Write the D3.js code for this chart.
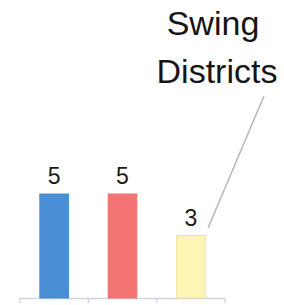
<!DOCTYPE html>
<html>
<head>
<meta charset="utf-8">
<script src="https://d3js.org/d3.v7.min.js"></script>
<style>
    body { margin: 0; background: #fff; }
    svg { display: block; font-family: "Liberation Sans", Arial, sans-serif; }
</style>
</head>
<body>
<svg id="chart" width="284" height="305"></svg>
<script>
    // chart data
    var categories = ["Democrat", "Republican", "Swing"];
    var values = [5, 5, 3];
    var fills = ["#4a8fd6", "#f27372", "#fff6b5"];
    var strokes = ["#4a8fd6", "#f27372", "#efe1a4"];
    var calloutLines = ["Swing", "Districts"];

    var svg = d3.select("#chart");
    var baseY = 298;

    var x = d3.scaleBand()
        .domain(categories)
        .range([20, 225])
        .paddingInner(0.58)
        .paddingOuter(0.29);

    var y = d3.scaleLinear()
        .domain([0, 5])
        .range([baseY, 194]);

    // axis line with ticks between the bands
    svg.append("line")
        .attr("x1", 19).attr("x2", 225)
        .attr("y1", baseY + 0.5).attr("y2", baseY + 0.5)
        .attr("stroke", "#cfd6e4").attr("stroke-width", 1.5);
    var tickX = d3.range(categories.length + 1).map(function (i) {
        return 20 + i * (205 / categories.length);
    });
    svg.selectAll(".tick").data(tickX).enter().append("line")
        .attr("class", "tick")
        .attr("x1", function (d) { return d; })
        .attr("x2", function (d) { return d; })
        .attr("y1", baseY).attr("y2", baseY + 5)
        .attr("stroke", "#cfd6e4").attr("stroke-width", 1.5);

    svg.selectAll(".bar").data(values).enter().append("rect")
        .attr("class", "bar")
        .attr("x", function (d, i) { return x(categories[i]); })
        .attr("y", function (d) { return y(d); })
        .attr("width", x.bandwidth())
        .attr("height", function (d) { return baseY - y(d); })
        .attr("fill", function (d, i) { return fills[i]; })
        .attr("stroke", function (d, i) { return strokes[i]; })
        .attr("stroke-width", 1);

    svg.selectAll(".val").data(values).enter().append("text")
        .attr("class", "val")
        .attr("x", function (d, i) { return x(categories[i]) + x.bandwidth() / 2; })
        .attr("y", function (d) { return y(d) - 10; })
        .attr("text-anchor", "middle")
        .attr("font-size", 23)
        .attr("fill", "#1a1a1a")
        .text(function (d) { return d; });

    // callout for the swing bar
    var last = categories[categories.length - 1];
    svg.append("line")
        .attr("x1", x(last) + x.bandwidth() + 3)
        .attr("y1", y(values[values.length - 1]) - 8)
        .attr("x2", 264)
        .attr("y2", 96)
        .attr("stroke", "#b8b8b8")
        .attr("stroke-width", 1.5);

    svg.selectAll(".callout").data(calloutLines).enter().append("text")
        .attr("class", "callout")
        .attr("x", function (d, i) { return i == 0 ? 213 : 217; })
        .attr("y", function (d, i) { return 35 + i * 48; })
        .attr("text-anchor", "middle")
        .attr("font-size", 34)
        .attr("fill", "#151515")
        .text(function (d) { return d; });
</script>
</body>
</html>
